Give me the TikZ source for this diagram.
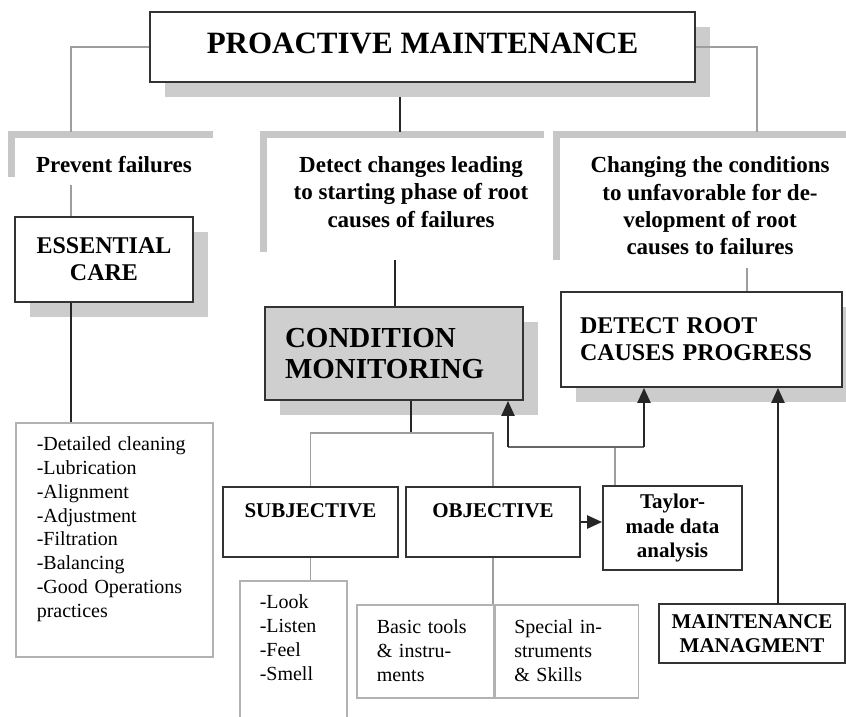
\documentclass[tikz,border=0pt]{standalone}
\usepackage{fontspec}
\setmainfont{Liberation Serif}
\usetikzlibrary{shadows,arrows.meta}

\begin{document}
\begin{tikzpicture}[x=1pt, y=-1pt,
    box/.style={rectangle, draw=black!80, line width=1.8pt, fill=white, align=center, inner sep=0pt, font=\fontsize{21}{24.5}\selectfont\bfseries},
    shadowed/.style={drop shadow={shadow xshift=15pt, shadow yshift=-15pt, fill=black!20, opacity=1}},
    listbox/.style={rectangle, draw=black!30, line width=1.5pt, fill=white, align=left, inner ysep=0pt, anchor=north west, font=\fontsize{20}{23.8}\selectfont},
    heading/.style={align=center, inner sep=0pt, font=\fontsize{23}{27.4}\selectfont\bfseries},
    bar/.style={fill=black!22},
    greyline/.style={draw=black!38, line width=1.5pt},
    link/.style={draw=black!85, line width=1.5pt},
    uparrow/.style={draw=black!85, line width=2.4pt, -{Triangle[length=15pt, width=13pt]}}
]
    \useasboundingbox (0,0) rectangle (846,716);
    \clip (0,0) rectangle (846,716);

    % Kopf
    \node[box, shadowed, minimum width=545pt, minimum height=70pt, text depth=8pt, font=\fontsize{31}{34}\selectfont\bfseries] (pm) at (422.5,47) {PROACTIVE MAINTENANCE};

    % Klammern unter dem Kopf
    \fill[bar] (8,131) rectangle (213,138);
    \fill[bar] (8,131) rectangle (15,177);
    \fill[bar] (260,131) rectangle (544,138);
    \fill[bar] (260,131) rectangle (267,252);
    \fill[bar] (553,131) rectangle (846,138);
    \fill[bar] (553,131) rectangle (560,260);

    % Ziele
    \node[heading] (prevent) at (114,165) {Prevent failures};
    \node[heading] (detect) at (411,192) {Detect changes leading\\to starting phase of root\\causes of failures};
    \node[heading] (changing) at (710,206) {Changing the conditions\\to unfavorable for de-\\velopment of root\\causes to failures};

    % Hauptkaesten
    \node[box, shadowed, minimum width=178pt, minimum height=85pt, font=\fontsize{24}{27}\selectfont\bfseries] (care) at (104,259.5) {ESSENTIAL\\CARE};
    \node[box, shadowed, fill=black!19, minimum width=258pt, minimum height=93pt, text width=218pt, inner xsep=20pt, align=left, font=\fontsize{29}{31}\selectfont\bfseries] (cm) at (394,353.5) {CONDITION\\MONITORING};
    \node[box, shadowed, minimum width=281pt, minimum height=95pt, text width=243pt, inner xsep=19pt, align=left, font=\fontsize{24}{27}\selectfont\bfseries] (root) at (701.5,339.5) {DETECT ROOT\\CAUSES PROGRESS};

    % Methoden
    \node[box, minimum width=175pt, text height=30pt, text depth=40pt] (subj) at (310.5,522) {SUBJECTIVE};
    \node[box, minimum width=174pt, text height=30pt, text depth=40pt] (obj) at (493,522) {OBJECTIVE};
    \node[box, minimum width=139pt, minimum height=84pt] (taylor) at (672.5,528) {Taylor-\\made data\\analysis};
    \node[box, minimum width=186pt, minimum height=59pt] (mgmt) at (752,633.5) {MAINTENANCE\\MANAGMENT};

    % Listen
    \node[listbox, text width=155pt, inner xsep=21pt, text height=28pt, text depth=206pt] (tasks) at (15,422) {-Detailed cleaning\\-Lubrication\\-Alignment\\-Adjustment\\-Filtration\\-Balancing\\-Good Operations\\practices};
    \node[listbox, text width=67pt, inner xsep=20pt, text height=28pt, text depth=200pt] (senses) at (239,580) {-Look\\-Listen\\-Feel\\-Smell};
    \node[listbox, text width=97pt, inner xsep=20pt, text height=29pt, text depth=64pt] (basic) at (356,604) {Basic tools\\\& instru-\\ments};
    \node[listbox, text width=105pt, inner xsep=19pt, text height=29pt, text depth=64pt] (special) at (basic.north east) {Special in-\\struments\\\& Skills};

    % Knickpunkte
    \coordinate (lj) at (71,132);
    \coordinate (mt) at (400,97);
    \coordinate (mj) at (400,132);
    \coordinate (rj) at (757,132);
    \coordinate (pf) at (71,185);
    \coordinate (dc) at (395,260);
    \coordinate (cr) at (747,268);
    \coordinate (sj) at (411,433);
    \coordinate (tj) at (615,447);
    \coordinate (ta) at (508,447);
    \coordinate (tb) at (644,447);
    \coordinate (mm) at (778,604);

    % Verbindungen
    \draw[greyline] (pm.west) -| (lj);
    \draw[greyline] (pm.east) -| (rj);
    \draw[link] (mt) -- (mj);
    \draw[greyline] (pf) -- (pf |- care.north);
    \draw[link, line width=2pt] (care.south -| pf) -- (tasks.north -| pf);
    \draw[link] (dc) -- (dc |- cm.north);
    \draw[greyline] (cr) -- (cr |- root.north);
    \draw[link, line width=2pt] (cm.south -| sj) -- (sj);
    \draw[greyline] (subj.north) |- (sj) -| (obj.north);
    \draw[greyline] (subj.south) -- (subj.south |- senses.north);
    \draw[greyline] (obj.south) -- (obj.south |- special.north);
    \draw[uparrow] (obj.east) -- (obj.east -| taylor.west);
    \draw[greyline] (taylor.north -| tj) -- (tj);
    \draw[draw=black!60, line width=1.8pt] (ta) -- (tb);
    \draw[uparrow] (ta) -- (ta |- cm.south);
    \draw[uparrow] (tb) -- (tb |- root.south);
    \draw[uparrow] (mm) -- (mm |- root.south);
\end{tikzpicture}
\end{document}
